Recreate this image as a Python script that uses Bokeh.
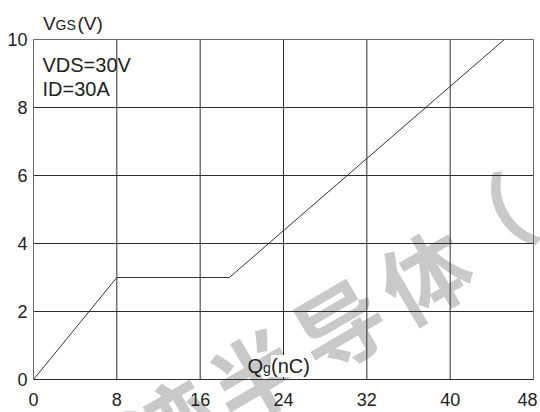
from bokeh.plotting import figure
from bokeh.models import Label, LabelSet, ColumnDataSource
from bokeh.core.properties import value
from bokeh.embed import file_html
from bokeh.resources import INLINE

# ---- data ----
qg_nc = [0, 8, 18.8, 45.2]
vgs_v = [0, 3, 3, 10]
x_ticks = [0, 8, 16, 24, 32, 40, 48]
x_tick_labels = ["0", "8", "16", "24", "32", "40", "48"]
y_ticks = [0, 2, 4, 6, 8, 10]
y_tick_labels = ["0", "2", "4", "6", "8", "10"]
cond_lines = ["VDS=30V", "ID=30A"]
watermark_chars = ["迹", "半", "导", "体", "（"]

FONT = "Liberation Sans"
TXT = "#222222"

# ---- layout: the plotting box occupies page px x 33..533, y 39..379 ----
W, H = 540, 412
BOX_L, BOX_R, BOX_T, BOX_B = 33, 533, 39, 379
XMIN, XMAX = x_ticks[0], x_ticks[-1]
YMIN, YMAX = y_ticks[0], y_ticks[-1]
SX = (BOX_R - BOX_L) / (XMAX - XMIN)
SY = (BOX_B - BOX_T) / (YMAX - YMIN)

p = figure(width=W, height=H, output_backend="svg", toolbar_location=None,
           x_range=(XMIN - BOX_L / SX, XMAX + (W - BOX_R) / SX),
           y_range=(YMIN - (H - BOX_B) / SY, YMAX + BOX_T / SY),
           min_border=0)
p.axis.visible = False
p.grid.visible = False
p.outline_line_color = None
p.background_fill_color = "white"
p.border_fill_color = "white"

def to_data(px, py):
    return (XMIN + (px - BOX_L) / SX, YMIN + (BOX_B - py) / SY)

# watermark (under everything)
wm_centers = [(168, 422), (253, 372), (338, 322), (423, 272), (484, 220)]
for ch, (cx, cy) in zip(watermark_chars, wm_centers):
    dx, dy = to_data(cx, cy)
    p.add_layout(Label(x=dx, y=dy, text=ch, text_font="Noto Sans CJK SC",
                       text_font_style="bold", text_font_size="88px",
                       text_color="#c9c9c9", text_align="center", text_baseline="middle",
                       angle=0.53, level="image"))

# grid lines (inner ticks)
inner_x = x_ticks[1:-1]
inner_y = y_ticks[1:-1]
p.segment(x0=inner_x, y0=[YMIN] * len(inner_x), x1=inner_x, y1=[YMAX] * len(inner_x),
          line_color="#2e2e2e", line_width=1)
p.segment(x0=[XMIN] * len(inner_y), y0=inner_y, x1=[XMAX] * len(inner_y), y1=inner_y,
          line_color="#2e2e2e", line_width=1)

# box border
p.line([XMIN, XMIN, XMAX, XMAX], [YMIN, YMAX, YMAX, YMIN], line_color="#6a6a6a", line_width=1)
p.line([XMIN, XMAX], [YMIN, YMIN], line_color="#2e2e2e", line_width=1)

# curve
p.line(qg_nc, vgs_v, line_color="#333333", line_width=1)

# tick labels
xs = ColumnDataSource(dict(x=x_ticks[:-1], y=[YMIN] * (len(x_ticks) - 1), t=x_tick_labels[:-1]))
p.add_layout(LabelSet(source=xs, x="x", y="y", text="t", text_font=value(FONT),
                      text_font_size="18px", text_color=TXT, text_align="center",
                      text_baseline="alphabetic", y_offset=-26))
xs_last = ColumnDataSource(dict(x=x_ticks[-1:], y=[YMIN], t=x_tick_labels[-1:]))
p.add_layout(LabelSet(source=xs_last, x="x", y="y", text="t", text_font=value(FONT),
                      text_font_size="18px", text_color=TXT, text_align="center",
                      text_baseline="alphabetic", y_offset=-26, x_offset=-6))
ys = ColumnDataSource(dict(x=[XMIN] * len(y_ticks), y=y_ticks, t=y_tick_labels))
p.add_layout(LabelSet(source=ys, x="x", y="y", text="t", text_font=value(FONT),
                      text_font_size="18px", text_color=TXT, text_align="right",
                      text_baseline="middle", x_offset=-6))

def add_text(px, py, text, size_px, bg=None):
    # Label draws somewhat below its nominal alphabetic baseline; compensate
    dx, dy = to_data(px, py - 0.37 * size_px)
    kw = {}
    if bg:
        kw["background_fill_color"] = bg
    p.add_layout(Label(x=dx, y=dy, text=text, text_font=FONT, text_font_size=f"{size_px}px",
                       text_color=TXT, text_align="left", text_baseline="alphabetic", **kw))

# y-axis title V_GS(V)
add_text(42.5, 30, "V", 19)
add_text(55, 30, "GS", 14)
add_text(77, 30, "(V)", 19)

# conditions
add_text(42, 72, cond_lines[0], 20)
add_text(42, 96, cond_lines[1], 20)

# x-axis title Q_g(nC)
add_text(247, 373, "Q", 20)
add_text(262.5, 373, "g", 14)
add_text(270.5, 373, "(nC)", 20, bg="white")

open("out.html", "w").write(file_html(p, INLINE))
